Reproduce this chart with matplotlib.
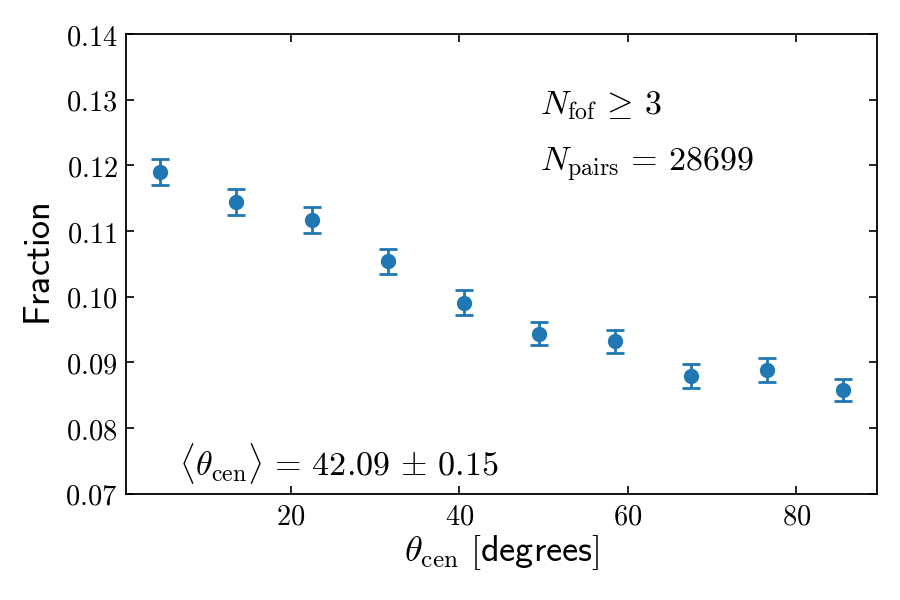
import matplotlib
matplotlib.use("Agg")
import matplotlib.pyplot as plt
from matplotlib.ticker import FuncFormatter, MultipleLocator

plt.rcParams['mathtext.fontset'] = 'cm'
plt.rcParams['font.family'] = ['DejaVu Sans']

theta = [4.5, 13.5, 22.5, 31.5, 40.5, 49.5, 58.5, 67.5, 76.5, 85.5]
fraction = [0.1190, 0.1144, 0.1117, 0.1054, 0.0991, 0.0944, 0.0932, 0.0879, 0.0888, 0.0858]
errors = [0.0020, 0.0020, 0.0020, 0.0019, 0.0019, 0.0018, 0.0018, 0.0018, 0.0018, 0.0017]

fig = plt.figure(figsize=(9, 6), dpi=100)
ax = fig.add_axes([0.14, 0.177, 0.8344, 0.7663])

ax.errorbar(theta, fraction, yerr=errors, fmt='o', color='#1f77b4',
            markersize=10, capsize=6.5, elinewidth=2, capthick=2)

ax.set_ylim(0.07, 0.14)
ax.yaxis.set_major_locator(MultipleLocator(0.01))
ax.xaxis.set_major_locator(MultipleLocator(20))
ax.yaxis.set_major_formatter(FuncFormatter(lambda v, p: r'$%.2f$' % v))
ax.xaxis.set_major_formatter(FuncFormatter(lambda v, p: r'$%d$' % v))

ax.tick_params(direction='in', top=True, right=True, length=6, width=1.2,
               labelsize=20.5, pad=6)
for s in ax.spines.values():
    s.set_linewidth(1.3)

ax.set_ylabel(r'$\mathsf{Fraction}$', fontsize=26, labelpad=6)
ax.set_xlabel(r'$\theta_{\rm cen}\ \mathsf{[degrees]}$', fontsize=26, labelpad=2)

ax.text(0.551, 0.845, r'$N_{\rm fof}\,\geq\,3$', transform=ax.transAxes,
        fontsize=24.5, va='center', ha='left')
ax.text(0.551, 0.715, r'$N_{\rm pairs}\,=\,28699$', transform=ax.transAxes,
        fontsize=24.5, va='center', ha='left')
ax.text(0.07, 0.065, r'$\langle \theta_{\rm cen} \rangle\,=\,42.09\,\pm\,0.15$',
        transform=ax.transAxes, fontsize=24.5, va='center', ha='left')

fig.savefig('out.png', dpi=100)
